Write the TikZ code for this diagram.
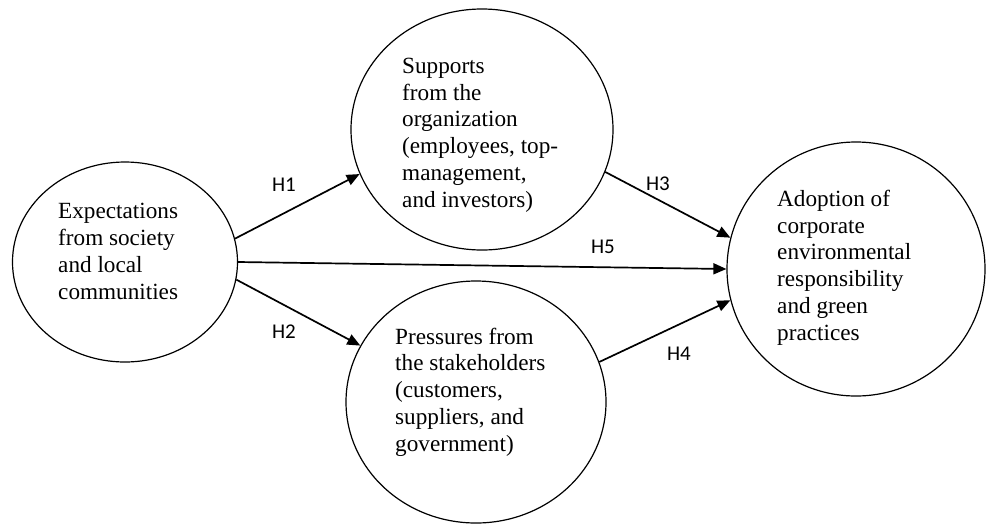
\documentclass[tikz,border=0pt]{standalone}
\usepackage{fontspec}
\setmainfont{Liberation Serif}
\newfontfamily\lblfont{Carlito}
\usetikzlibrary{shapes.geometric,arrows.meta}
\tikzset{
  bubble/.style={ellipse, draw, line width=1.2pt, inner sep=0pt},
  bubbletext/.style={anchor=base west, align=left, inner sep=0pt, font=\fontsize{23.2}{26.7}\selectfont},
  conn/.style={line width=1.7pt, -{Triangle[length=13pt,width=11pt]}},
  hlabel/.style={inner sep=0pt, font=\lblfont\fontsize{21}{24}\selectfont}
}
\begin{document}
\begin{tikzpicture}[x=1pt,y=-1pt]
\useasboundingbox[fill=white] (0,0) rectangle (987,523);
% ellipses
\node[bubble, minimum width=225pt, minimum height=200pt] (L) at (125,262) {};
\node[bubble, minimum width=262pt, minimum height=241pt] (T) at (482,129.5) {};
\node[bubble, minimum width=260pt, minimum height=242pt] (B) at (476,402) {};
\node[bubble, minimum width=258pt, minimum height=254pt] (R) at (856,269) {};
% texts (anchored at the baseline of their last line)
\node[bubbletext] (tL) at (58,299) {Expectations\\from society\\and local\\communities};
\node[bubbletext] (tT) at (402,207) {Supports\\from the\\organization\\(employees, top-\\management,\\and investors)};
\node[bubbletext] (tB) at (395,451) {Pressures from\\the stakeholders\\(customers,\\suppliers, and\\government)};
\node[bubbletext] (tR) at (777,340) {Adoption of\\corporate\\environmental\\responsibility\\and green\\practices};
% connectors
\draw[conn] (L.12.2) -- (T.200.6);
\draw[conn] (L.-9.7) -- (B.154);
\draw[conn] (L.-0.5) -- (R.180);
\draw[conn] (T.-19.9) -- (R.166);
\draw[conn] (B.18.4) -- (R.194.3);
% labels
\node[hlabel] (h1) at (284,185) {H1};
\node[hlabel] (h2) at (284,332) {H2};
\node[hlabel] (h3) at (658,184) {H3};
\node[hlabel] (h4) at (679,354) {H4};
\node[hlabel] (h5) at (603,247) {H5};
\end{tikzpicture}
\end{document}
